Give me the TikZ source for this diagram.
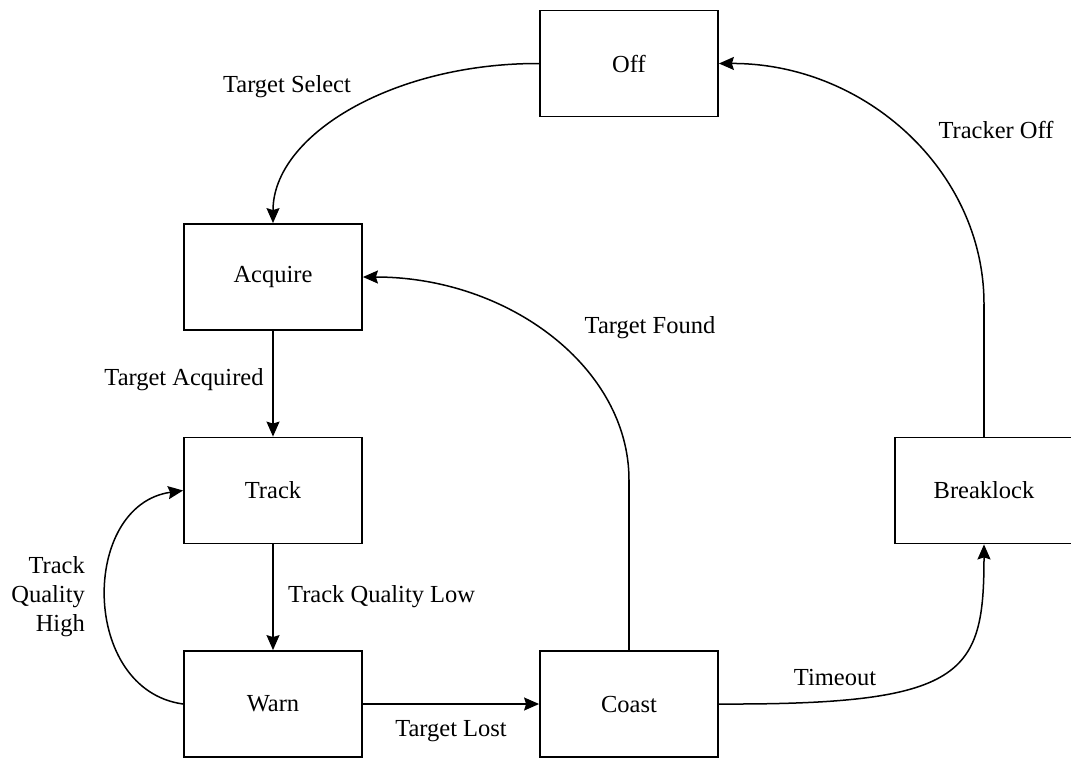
\documentclass[tikz,border=0pt]{standalone}
\usepackage{fontspec}
\setmainfont{Liberation Serif}
\usetikzlibrary{arrows.meta}
\begin{document}
\begin{tikzpicture}[x=1pt,y=-1pt,
  state/.style={draw, line width=1.8pt, minimum width=178pt, minimum height=106pt,
                inner sep=0pt, font=\fontsize{24.5}{29}\selectfont},
  lbl/.style={font=\fontsize{24.5}{29}\selectfont, inner sep=0pt},
  conn/.style={line width=1.5pt, -{Stealth[length=15pt,width=13pt,inset=2pt]}},
  plain/.style={line width=1.5pt}
]
\useasboundingbox (0,0) rectangle (1071,758);

% states
\node[state] (off)   at (629,63.5)  {Off};
\node[state] (acq)   at (273,277)   {Acquire};
\node[state] (track) at (273,490.5) {Track};
\node[state] (warn)  at (273,704)   {Warn};
\node[state] (coast) at (629,704)   {Coast};
\node[state] (brk)   at (984,490.5) {Breaklock};

% bend points of the long transitions
\coordinate (coastUp) at (629,480);
\coordinate (brkUp)   at (984,304);

% transitions
\draw[conn] (off.west) .. controls (393,63) and (273,135) .. (acq.north);
\draw[conn] (acq.south) -- (track.north);
\draw[conn] (track.south) -- (warn.north);
\draw[conn] (warn.west) .. controls (80,690) and (80,505) .. (track.west);
\draw[conn] (warn.east) -- (coast.west);
\draw[plain] (coast.north) -- (coastUp);
\draw[conn] (coastUp) .. controls (629,368) and (509,277) .. (acq.east);
\draw[conn] (coast.east) .. controls (965,705) and (984,675) .. (brk.south);
\draw[plain] (brk.north) -- (brkUp);
\draw[conn] (brkUp) .. controls (984,171) and (865,63) .. (off.east);

% transition labels
\node[lbl] (lSel)   at (287,87)  {Target Select};
\node[lbl] (lOff)   at (996,130) {Tracker Off};
\node[lbl] (lFound) at (650,328) {Target Found};
\node[lbl] (lAcq)   at (184,380) {Target Acquired};
\node[lbl, anchor=west] (lLow) at (288,597) {Track Quality Low};
\node[lbl, anchor=east, align=right] (lHigh) at (85,597) {Track\\Quality\\High};
\node[lbl] (lLost)  at (451,731) {Target Lost};
\node[lbl] (lTime)  at (835,677) {Timeout};
\end{tikzpicture}
\end{document}
